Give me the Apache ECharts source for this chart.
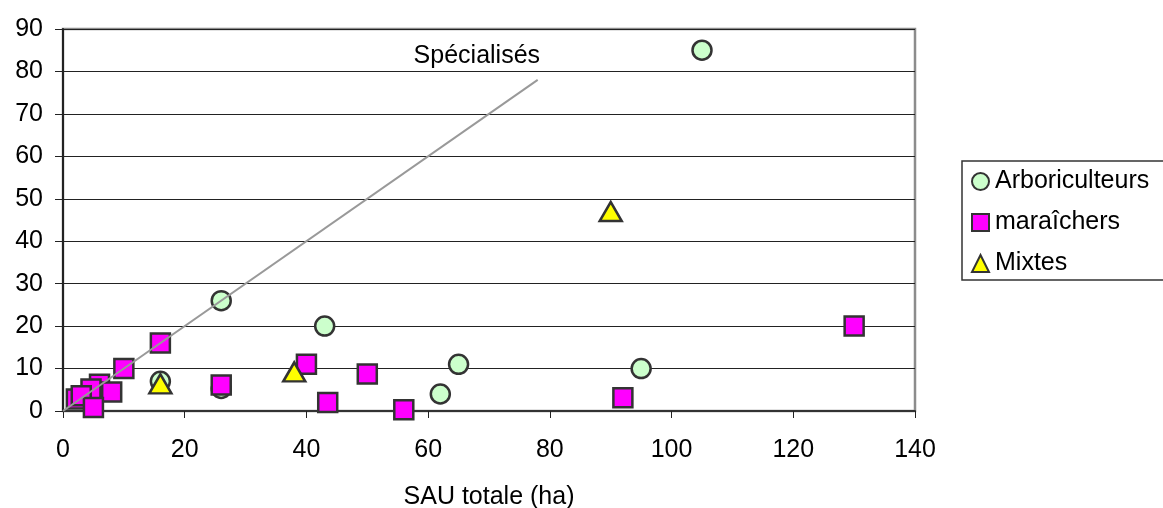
<!DOCTYPE html>
<html>
<head>
<meta charset="utf-8">
<script src="https://cdn.jsdelivr.net/npm/echarts@6/dist/echarts.min.js"></script>
<style>html,body{margin:0;padding:0;background:#fff;}#c{width:1163px;height:508px;}</style>
</head>
<body>
<div id="c"></div>
<script>
var arboriculteurs = [[105,85],[26,26],[43,20],[65,11],[95,10],[16,7],[62,4],[26,5.3]];
var maraichers = [[130,20],[16,16],[40,11],[10,10],[50,8.7],[26,6.1],[6,6.3],[4.6,5.2],[8,4.5],[2.2,2.8],[3,3.6],[92,3.1],[43.5,2],[5,0.8],[56,0.3]];
var mixtes = [[90,47],[38,9.2],[16,6.4]];
var lineSpecialises = [[0,0],[78,78]];
var labelSpecialises = [[68,83.5]];
var seriesNames = ['Arboriculteurs','maraîchers','Mixtes'];
var xTicks = {min:0, max:140, interval:20};
var yTicks = {min:0, max:90, interval:10};
var xName = 'SAU totale (ha)';
var lineName = 'Spécialisés';

var FONT = 'Liberation Sans';
var FS = 25;
var chart = echarts.init(document.getElementById('c'), null, {renderer:'canvas'});
var border = {borderColor:'#333', borderWidth:2.5, opacity:1};
chart.setOption({
  animation:false,
  textStyle:{fontFamily:FONT},
  grid:{left:63, right:248, top:29, bottom:97, show:true, borderColor:'#8c8c8c', borderWidth:2.5,
    backgroundColor:'transparent', containLabel:false, outerBoundsMode:'none'},
  graphic:[{type:'rect', shape:{x:962, y:161, width:260, height:119},
    style:{fill:'none', stroke:'#333', lineWidth:1.5}, silent:true, z:1}],
  legend:{
    orient:'vertical', left:962, top:161, data:seriesNames,
    itemWidth:17, itemHeight:17, itemGap:16,
    padding:[8,0,8,9],
    textStyle:{fontFamily:FONT, fontSize:FS, color:'#000', padding:[0,0,0,1]}
  },
  xAxis:{
    type:'value', min:xTicks.min, max:xTicks.max, interval:xTicks.interval,
    name:xName, nameLocation:'middle', nameGap:74,
    nameTextStyle:{fontFamily:FONT, fontSize:FS, color:'#000'},
    axisLine:{show:true, lineStyle:{color:'#333', width:2}},
    axisTick:{show:true, length:7, lineStyle:{color:'#222', width:1}},
    axisLabel:{fontFamily:FONT, fontSize:FS, color:'#000', margin:27},
    splitLine:{show:false}
  },
  yAxis:{
    type:'value', min:yTicks.min, max:yTicks.max, interval:yTicks.interval,
    axisLine:{show:true, lineStyle:{color:'#222', width:2}},
    axisTick:{show:true, length:8, lineStyle:{color:'#222', width:1}},
    axisLabel:{fontFamily:FONT, fontSize:FS, color:'#000', margin:20},
    splitLine:{show:true, lineStyle:{color:'#222', width:1}}
  },
  series:[
    {name:seriesNames[0], type:'scatter', symbol:'circle', symbolSize:19, data:arboriculteurs,
      itemStyle:Object.assign({color:'#ccffcc'}, border), z:2},
    {name:seriesNames[1], type:'scatter', symbol:'rect', symbolSize:19, data:maraichers,
      itemStyle:Object.assign({color:'#ff00ff'}, border), z:3},
    {name:seriesNames[2], type:'scatter', symbol:'triangle', symbolSize:[22,19], data:mixtes,
      itemStyle:Object.assign({color:'#ffff00'}, border), z:4},
    {name:lineName, type:'line', data:lineSpecialises, symbol:'none', z:5,
      lineStyle:{color:'#999', width:2, opacity:1}},
    {name:'label', type:'scatter', data:labelSpecialises, symbolSize:0, silent:true, z:6,
      itemStyle:{opacity:1},
      label:{show:true, position:'inside', formatter:lineName, fontFamily:FONT, fontSize:FS, color:'#000'}}
  ]
});
</script>
</body>
</html>
